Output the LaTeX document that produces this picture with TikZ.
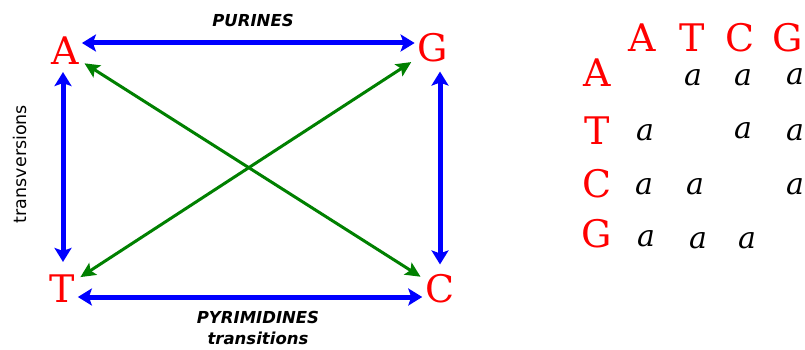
\documentclass[tikz,border=0pt]{standalone}
\usepackage{fontspec}
\setmainfont{DejaVu Serif}
\newfontfamily\sansfont{DejaVu Sans}
\usepackage{tikz}
\usetikzlibrary{arrows.meta}
\definecolor{trgreen}{RGB}{0,128,0}

\begin{document}
\begin{tikzpicture}[x=1pt,y=-1pt,
    base/.style={text=red,inner sep=3pt,font=\fontsize{38}{40}\selectfont},
    entry/.style={inner sep=0pt,font=\fontsize{30}{32}\selectfont\itshape},
    tag/.style={font=\sansfont\bfseries\itshape\fontsize{16.5}{18}\selectfont},
    purine/.style={blue,line width=5pt,{Stealth[length=14pt,width=17pt,inset=3pt]}-{Stealth[length=14pt,width=17pt,inset=3pt]}},
    transv/.style={trgreen,line width=3pt,{Stealth[length=15pt,width=14pt,inset=3pt]}-{Stealth[length=15pt,width=14pt,inset=3pt]}}]
    \useasboundingbox (0,0) rectangle (805,350);
    % the square
    \node[base] (A) at (65,51) {A};
    \node[base] (G) at (433,48) {G};
    \node[base] (T) at (62,289) {T};
    \node[base] (C) at (440,289) {C};
    \draw[purine] ([yshift=8pt]A.east) -- ([yshift=5pt]G.west);
    \draw[purine] ([yshift=-8pt]T.east) -- ([yshift=-8pt]C.west);
    \draw[purine, shorten <=4pt, shorten >=10pt] ([xshift=-2pt]A.south) -- ([xshift=1pt]T.north);
    \draw[purine, shorten <=6pt, shorten >=7pt] ([xshift=7pt]G.south) -- (C.north);
    \draw[transv, shorten <=3pt, shorten >=2pt] (A) -- (C);
    \draw[transv, shorten <=3pt, shorten >=4pt] (T) -- (G);
    \node[tag] (pur) at (253,20) {PURINES};
    \node[tag] (pyr) at (258,317) {PYRIMIDINES};
    \node[tag] (trs) at (258,338) {transitions};
    \node[rotate=90,font=\sansfont\fontsize{17.5}{19}\selectfont] (tv) at (20,164) {transversions};
    % the table
    \foreach \n/\x in {A/642,T/692,C/740,G/788}{\node[base,inner sep=0pt] (h\n) at (\x,38) {\n};}
    \foreach \n/\y in {A/73,T/131,C/184,G/234}{\node[base,inner sep=0pt] (r\n) at (597,\y) {\n};}
    \foreach \n/\x/\y in {AT/693/78,AC/743/78,AG/795/77,
                          TA/645/133,TC/743/131,TG/795/133,
                          CA/644/187,CT/695/187,CG/795/187,
                          GA/646/239,GT/698/241,GC/747/241}{\node[entry] (e\n) at (\x,\y) {a};}
\end{tikzpicture}
\end{document}
